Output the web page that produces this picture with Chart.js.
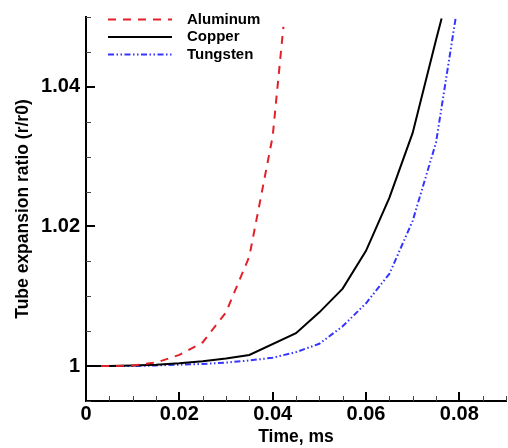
<!DOCTYPE html>
<html>
<head>
<meta charset="utf-8">
<script src="https://cdn.jsdelivr.net/npm/chart.js@4.4.1/dist/chart.umd.min.js"></script>
<style>
    html, body { margin: 0; padding: 0; background: #fff; }
    canvas { display: block; }
</style>
</head>
<body>
<canvas id="expansionChart" width="508" height="448"></canvas>
<script>
// Tube expansion ratio r/r0 against time for three tube materials
const seriesNames = ['Aluminum', 'Copper', 'Tungsten'];

const aluminumTime  = [0, 0.005, 0.01, 0.015, 0.02, 0.025, 0.03, 0.035, 0.04, 0.0423];
const aluminumRatio = [1, 1.0000, 1.0001, 1.0005, 1.0016, 1.0034, 1.0077, 1.0157, 1.0329, 1.0486];

const copperTime  = [0, 0.005, 0.01, 0.015, 0.02, 0.025, 0.03, 0.035, 0.045, 0.05, 0.055, 0.06, 0.065, 0.07, 0.075, 0.0762];
const copperRatio = [1, 1.0000, 1.0001, 1.0002, 1.0004, 1.0007, 1.0011, 1.0016, 1.0047, 1.0077, 1.0111, 1.0165, 1.0241, 1.0334, 1.0467, 1.0498];

const tungstenTime  = [0, 0.005, 0.01, 0.015, 0.02, 0.025, 0.03, 0.035, 0.04, 0.045, 0.05, 0.055, 0.06, 0.065, 0.07, 0.075, 0.0792];
const tungstenRatio = [1, 1.0000, 1.0000, 1.0001, 1.0002, 1.0003, 1.0005, 1.0008, 1.0012, 1.0020, 1.0032, 1.0057, 1.0090, 1.0132, 1.0208, 1.0320, 1.0498];

const xTickValues = [0, 0.02, 0.04, 0.06, 0.08];
const xTickLabels = ['0', '0.02', '0.04', '0.06', '0.08'];
const yTickValues = [1, 1.02, 1.04];
const yTickLabels = ['1', '1.02', '1.04'];

const fontFamily = "'Liberation Sans', Arial, sans-serif";
Chart.defaults.font.family = fontFamily;
Chart.defaults.color = '#000';

function toPoints(xs, ys) {
    return xs.map((x, i) => ({ x: x, y: ys[i] }));
}

// Tecplot-style ticks: drawn inward from the axis, with minor ticks between labels
const innerTicks = {
    id: 'innerTicks',
    afterDraw(chart, args, opts) {
        const ctx = chart.ctx;
        const area = chart.chartArea;
        const xs = chart.scales.x;
        const ys = chart.scales.y;
        ctx.save();

        const steps = (min, max, step) => {
            const out = [];
            for (let i = 0; min + i * step <= max + 1e-9; i++) out.push(+(min + i * step).toFixed(6));
            return out;
        };

        // minor ticks
        ctx.strokeStyle = '#444';
        ctx.lineWidth = 1;
        ctx.beginPath();
        steps(xs.min, xs.max, opts.minorStep).forEach(v => {
            const px = Math.round(xs.getPixelForValue(v)) + 0.5;
            ctx.moveTo(px, area.bottom);
            ctx.lineTo(px, area.bottom - opts.minorLength);
        });
        steps(ys.min, ys.max, opts.minorStep).forEach(v => {
            const py = Math.round(ys.getPixelForValue(v)) + 0.5;
            ctx.moveTo(area.left, py);
            ctx.lineTo(area.left + opts.minorLength, py);
        });
        ctx.stroke();

        // major ticks
        ctx.strokeStyle = '#000';
        ctx.lineWidth = 2;
        ctx.beginPath();
        xTickValues.forEach(v => {
            const px = Math.round(xs.getPixelForValue(v));
            ctx.moveTo(px, area.bottom);
            ctx.lineTo(px, area.bottom - opts.majorLength);
        });
        yTickValues.forEach(v => {
            const py = Math.round(ys.getPixelForValue(v));
            ctx.moveTo(area.left, py);
            ctx.lineTo(area.left + opts.majorLength, py);
        });
        ctx.stroke();
        ctx.restore();
    }
};

// Line key in the upper left corner of the plot
const lineKey = {
    id: 'lineKey',
    afterDraw(chart, args, opts) {
        const ctx = chart.ctx;
        ctx.save();
        ctx.font = 'bold ' + opts.fontSize + 'px ' + fontFamily;
        ctx.textBaseline = 'middle';
        ctx.textAlign = 'left';
        chart.data.datasets.forEach((ds, i) => {
            const y = opts.y + i * opts.rowGap;
            ctx.strokeStyle = ds.borderColor;
            ctx.lineWidth = ds.borderWidth;
            ctx.setLineDash(ds.borderDash || []);
            ctx.beginPath();
            ctx.moveTo(opts.x, y);
            ctx.lineTo(opts.x + opts.lineLength, y);
            ctx.stroke();
            ctx.setLineDash([]);
            ctx.fillStyle = '#000';
            ctx.fillText(ds.label, opts.x + opts.lineLength + opts.textGap, y);
        });
        ctx.restore();
    }
};

new Chart(document.getElementById('expansionChart'), {
    type: 'line',
    data: {
        datasets: [{
            label: seriesNames[0],
            data: toPoints(aluminumTime, aluminumRatio),
            borderColor: '#e3202a',
            borderWidth: 2,
            borderDash: [8, 7]
        }, {
            label: seriesNames[1],
            data: toPoints(copperTime, copperRatio),
            borderColor: '#000000',
            borderWidth: 2
        }, {
            label: seriesNames[2],
            data: toPoints(tungstenTime, tungstenRatio),
            borderColor: '#3535ff',
            borderWidth: 2,
            borderDash: [6, 2.5, 1.5, 2.5, 1.5, 2.5]
        }]
    },
    options: {
        responsive: false,
        animation: false,
        devicePixelRatio: 1,
        layout: { padding: { top: 17, right: 2, bottom: 0, left: 0 } },
        elements: {
            point: { radius: 0 },
            line: { tension: 0, fill: false }
        },
        plugins: {
            legend: { display: false },
            tooltip: { enabled: false },
            innerTicks: { minorStep: 0.005, minorLength: 5, majorLength: 9 },
            lineKey: { x: 108, y: 19.5, rowGap: 17.5, lineLength: 64, textGap: 15, fontSize: 15 }
        },
        scales: {
            x: {
                type: 'linear',
                min: 0,
                max: 0.09,
                afterBuildTicks: s => { s.ticks = xTickValues.map(v => ({ value: v })); },
                afterFit: s => { s.height = 47; s.paddingLeft = 0; s.paddingRight = 0; },
                grid: { display: false, drawTicks: false },
                border: { display: true, color: '#000', width: 2 },
                ticks: {
                    padding: 1,
                    maxRotation: 0,
                    autoSkip: false,
                    font: { size: 20, weight: 'bold' },
                    callback: (v, i) => xTickLabels[i]
                },
                title: {
                    display: true,
                    text: 'Time, ms',
                    font: { size: 17.5, weight: 'bold' },
                    padding: { top: 0, bottom: 0 }
                }
            },
            y: {
                type: 'linear',
                min: 0.995,
                max: 1.05,
                afterBuildTicks: s => { s.ticks = yTickValues.map(v => ({ value: v })); },
                afterFit: s => { s.width = 86; s.paddingTop = 0; s.paddingBottom = 0; },
                grid: { display: false, drawTicks: false },
                border: { display: true, color: '#000', width: 2 },
                ticks: {
                    padding: 6,
                    autoSkip: false,
                    font: { size: 20, weight: 'bold' },
                    callback: (v, i) => yTickLabels[i]
                },
                title: {
                    display: true,
                    text: 'Tube expansion ratio (r/r0)',
                    font: { size: 17.5, weight: 'bold' },
                    padding: { top: 13, bottom: 0 }
                }
            }
        }
    },
    plugins: [innerTicks, lineKey]
});
</script>
</body>
</html>
